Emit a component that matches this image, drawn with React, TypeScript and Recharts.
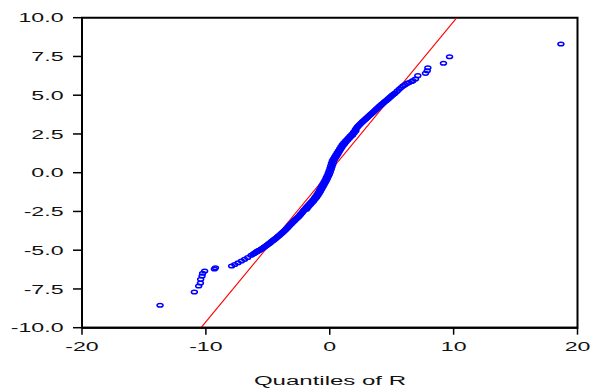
import React from "react";
import {
  ScatterChart,
  Scatter,
  XAxis,
  YAxis,
  ReferenceLine,
  ReferenceArea,
} from "recharts";

// Quantile pairs
const lowerTailX = [-13.7, -10.93, -10.58, -10.44, -10.42, -10.31, -10.26, -10.1, -9.31, -9.23];
const lowerTailY = [-8.55, -7.7, -7.31, -7.12, -6.88, -6.66, -6.49, -6.34, -6.21, -6.13];

const bodyX = [
  -7.92, -7.67, -7.4, -7.13, -6.87, -6.62, -6.35, -6.2, -6.05, -5.9, -5.76, -5.62,
  -5.48, -5.35, -5.22, -5.08, -4.95, -4.82, -4.68, -4.55, -4.42, -4.28, -4.15, -4.02, -3.88,
  -3.75, -3.62, -3.48, -3.35, -3.22, -3.08, -2.95, -2.82, -2.68, -2.55, -2.42, -2.3, -2.18,
  -2.06, -1.95, -1.84, -1.72, -1.6, -1.48, -1.36, -1.24, -1.13, -1.02, -0.92, -0.82, -0.72,
  -0.63, -0.54, -0.45, -0.36, -0.28, -0.2, -0.12, -0.05, 0.02, 0.08, 0.14, 0.21, 0.3, 0.4, 0.5,
  0.6, 0.7, 0.8, 0.91, 1.02, 1.14, 1.27, 1.4, 1.53, 1.66, 1.8, 1.93, 2.06, 2.19, 2.32, 2.46, 2.6,
  2.75, 2.9, 3.05, 3.2, 3.36, 3.52, 3.68, 3.84, 4.0, 4.16, 4.32, 4.48, 4.64, 4.8, 4.96, 5.12,
  5.28, 5.44, 5.6, 5.76, 5.92, 6.08, 6.24, 6.4, 6.6, 6.71,
];
const bodyY = [
  -6.02, -5.92, -5.81, -5.7, -5.59, -5.47, -5.33, -5.26, -5.18, -5.1, -5.03, -4.97,
  -4.9, -4.83, -4.76, -4.68, -4.6, -4.52, -4.43, -4.35, -4.27, -4.18, -4.09, -4.0, -3.9, -3.81,
  -3.71, -3.6, -3.49, -3.38, -3.27, -3.16, -3.06, -2.96, -2.86, -2.75, -2.63, -2.52, -2.4, -2.3,
  -2.19, -2.08, -1.98, -1.87, -1.76, -1.64, -1.52, -1.39, -1.26, -1.12, -0.98, -0.84, -0.71,
  -0.58, -0.45, -0.32, -0.18, -0.03, 0.12, 0.28, 0.44, 0.6, 0.76, 0.9, 1.03, 1.16, 1.29, 1.42,
  1.55, 1.68, 1.81, 1.93, 2.05, 2.16, 2.27, 2.38, 2.5, 2.63, 2.77, 2.91, 3.03, 3.14, 3.25, 3.36,
  3.47, 3.58, 3.69, 3.8, 3.92, 4.04, 4.16, 4.28, 4.39, 4.5, 4.61, 4.71, 4.82, 4.93, 5.04, 5.14,
  5.26, 5.38, 5.5, 5.6, 5.68, 5.76, 5.82, 5.88, 5.94,
];

// Further observations packed in the dense part of the band
const denseX = [
  -6.12, -5.97, -5.83, -5.69,
  -5.55, -5.41, -5.28, -5.15, -5.01, -4.88, -4.75, -4.61, -4.48, -4.35, -4.21, -4.08, -3.95,
  -3.81, -3.68, -3.55, -3.41, -3.28, -3.15, -3.01, -2.88, -2.75, -2.61, -2.48, -2.36, -2.24,
  -2.12, -1.88, -1.77, -1.66, -1.54, -1.42, -1.3, -1.18, -1.06, -0.95, -0.85, -0.75, -0.65,
  -0.55, -0.46, -0.37, -0.28, -0.2, -0.12, -0.04, 0.04, 0.11, 0.17, 0.23, 0.29, 0.37, 0.47, 0.57,
  0.67, 0.77, 0.87, 0.97, 1.08, 1.2, 1.32, 1.45, 1.58, 1.71, 1.85, 1.98, 2.11, 2.12, 2.25, 2.39,
  2.53, 2.67, 2.82, 2.97, 3.12, 3.28, 3.44, 3.6, 3.76, 3.92, 4.08, 4.24, 4.4, 4.56, 4.72, 4.88,
  5.04, 5.2,
];
const denseY = [
  -5.22, -5.14, -5.07, -5.0,
  -4.94, -4.87, -4.8, -4.72, -4.64, -4.56, -4.48, -4.39, -4.31, -4.23, -4.14, -4.05, -3.95,
  -3.86, -3.76, -3.66, -3.55, -3.44, -3.33, -3.22, -3.11, -3.01, -2.91, -2.81, -2.69, -2.58,
  -2.46, -2.35, -2.25, -2.14, -2.03, -1.93, -1.82, -1.7, -1.58, -1.46, -1.33, -1.19, -1.05,
  -0.91, -0.78, -0.65, -0.52, -0.39, -0.25, -0.11, 0.05, 0.2, 0.36, 0.52, 0.68, 0.83, 0.97, 1.1,
  1.23, 1.36, 1.49, 1.62, 1.75, 1.87, 1.99, 2.11, 2.22, 2.33, 2.44, 2.57, 2.7, 2.84, 2.97, 3.09,
  3.2, 3.31, 3.42, 3.53, 3.64, 3.75, 3.86, 3.98, 4.1, 4.22, 4.34, 4.45, 4.56, 4.66, 4.77, 4.88,
  4.99, 5.09,
];

const upperTailX = [6.92, 7.11, 7.73, 7.87, 7.92, 9.18, 9.67, 18.66];
const upperTailY = [6.05, 6.26, 6.41, 6.58, 6.77, 7.06, 7.48, 8.3];

// Reference line end points
const refLineX = [-10.39, 10.26];
const refLineY = [-10, 10];

const xTicks = [-20, -10, 0, 10, 20];
const yTicks = [-10, -7.5, -5, -2.5, 0, 2.5, 5, 7.5, 10];
const axisTitle = "Quantiles of R";

const toPoints = (xs: number[], ys: number[]) =>
  xs.map((x, i) => ({ x, y: ys[i] })).filter((p) => p.y !== undefined);

const points = [
  ...toPoints(lowerTailX, lowerTailY),
  ...toPoints(bodyX, bodyY),
  ...toPoints(denseX, denseY),
  ...toPoints(upperTailX, upperTailY),
];

const FONT = '"Liberation Sans", Arial, Helvetica, sans-serif';
const STRETCH = 1.78;
const TEXT_COLOR = "#111";

const YTick = (props: any) => {
  const { x, y, payload } = props;
  return (
    <g transform={`translate(${x - 9.5},${y + 4.6}) scale(${STRETCH},1)`}>
      <text x={0} y={0} textAnchor="end" fontSize={13} fontFamily={FONT} fill={TEXT_COLOR}>
        {Number(payload.value).toFixed(1)}
      </text>
    </g>
  );
};

const XTick = (props: any) => {
  const { x, y, payload } = props;
  return (
    <g transform={`translate(${x},${y + 16.3}) scale(${STRETCH},1)`}>
      <text x={0} y={0} textAnchor="middle" fontSize={13} fontFamily={FONT} fill={TEXT_COLOR}>
        {String(payload.value)}
      </text>
    </g>
  );
};

const Marker = (props: any) => {
  const { cx, cy } = props;
  if (cx == null || cy == null) return null;
  return <ellipse cx={cx} cy={cy} rx={3} ry={1.8} fill="none" stroke="#0000ff" strokeWidth={1.5} />;
};

export default function App() {
  return (
    <div style={{ position: "absolute", left: 0, top: 0, width: 590, height: 390, background: "#fff" }}>
      <ScatterChart
        width={590}
        height={390}
        margin={{ top: 17.7, right: 12.5, left: 0, bottom: 22 }}
      >
        <XAxis
          type="number"
          dataKey="x"
          domain={[-20, 20]}
          ticks={xTicks}
          allowDataOverflow
          height={40.3}
          tickSize={7}
          tickMargin={0}
          tick={<XTick />}
          axisLine={{ stroke: "#000", strokeWidth: 2 }}
          tickLine={{ stroke: "#000", strokeWidth: 1.5 }}
        />
        <YAxis
          type="number"
          dataKey="y"
          domain={[-10, 10]}
          ticks={yTicks}
          allowDataOverflow
          width={82}
          tickSize={9}
          tickMargin={0}
          tick={<YTick />}
          axisLine={{ stroke: "#000", strokeWidth: 2 }}
          tickLine={{ stroke: "#000", strokeWidth: 1.5 }}
        />
        <ReferenceArea
          x1={-20}
          x2={20}
          y1={-10}
          y2={10}
          fill="none"
          fillOpacity={0}
          stroke="#000"
          strokeWidth={2}
          strokeOpacity={1}
          ifOverflow="visible"
        />
        <ReferenceLine
          segment={[
            { x: refLineX[0], y: refLineY[0] },
            { x: refLineX[1], y: refLineY[1] },
          ]}
          stroke="#ff0000"
          strokeWidth={1.1}
          ifOverflow="hidden"
        />
        <Scatter data={points} shape={<Marker />} isAnimationActive={false} />
      </ScatterChart>
      <svg
        width={590}
        height={390}
        style={{ position: "absolute", left: 0, top: 0, pointerEvents: "none" }}
      >
        <g transform={`translate(330,384.5) scale(${STRETCH},1)`}>
          <text x={0} y={0} textAnchor="middle" fontSize={13.5} fontFamily={FONT} fill={TEXT_COLOR}>
            {axisTitle}
          </text>
        </g>
      </svg>
    </div>
  );
}
